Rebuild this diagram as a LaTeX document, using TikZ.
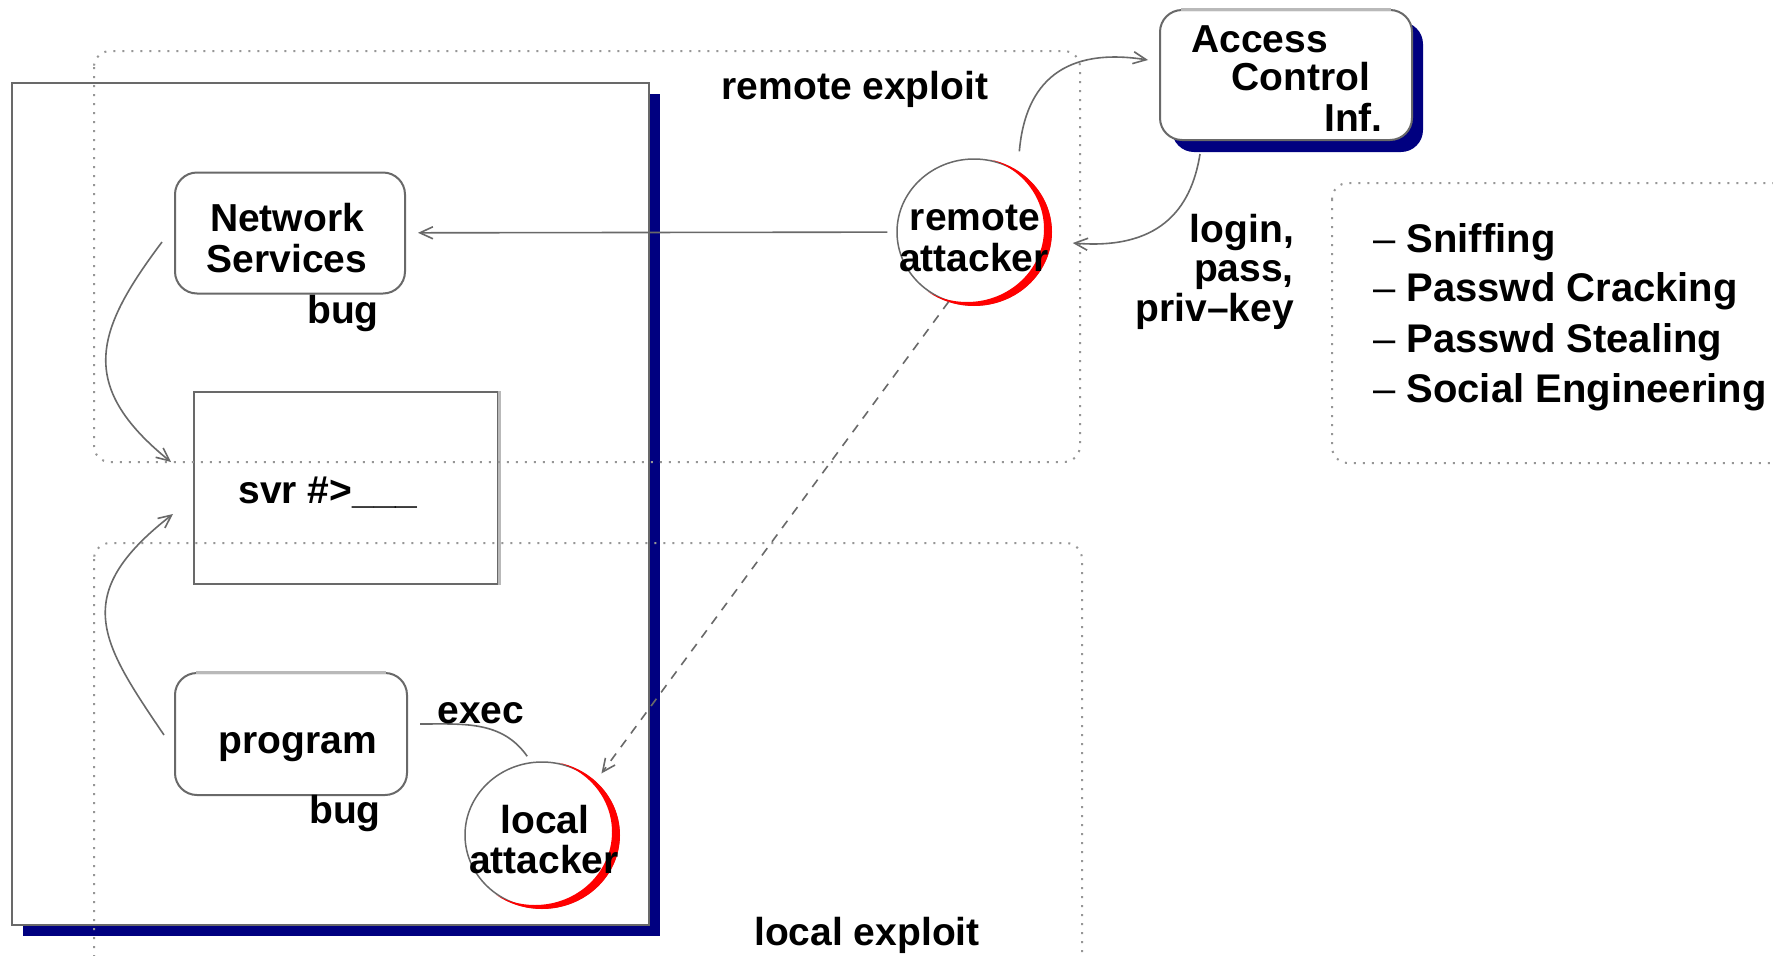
\documentclass[tikz,border=0pt]{standalone}
\usepackage{fontspec}
\setmainfont{Liberation Sans}
\usetikzlibrary{arrows.meta,shapes.geometric}
\definecolor{navyshadow}{RGB}{0,0,128}
\definecolor{edgegray}{RGB}{105,105,105}
\definecolor{lightedge}{RGB}{185,185,185}
\definecolor{dotgray}{RGB}{150,150,150}
\begin{document}
\begin{tikzpicture}[x=1pt,y=1pt,
  lbl/.style={font=\bfseries\fontsize{39}{41}\selectfont, inner sep=0pt},
  listlbl/.style={font=\bfseries\fontsize{40}{42}\selectfont, inner sep=0pt},
  rbox/.style={draw=edgegray, line width=2pt, rounded corners=22pt, inner sep=0pt},
  sqbox/.style={draw=edgegray, line width=2pt, inner sep=0pt},
  attacker/.style={ellipse, draw=edgegray, line width=1.5pt, minimum width=154pt, minimum height=146pt, inner sep=0pt},
  arr/.style={draw=edgegray, line width=1.6pt, -{Straight Barb[length=13pt,width=12pt,line width=1.6pt]}},
  plainline/.style={draw=edgegray, line width=1.6pt},
  zone/.style={draw=dotgray, line width=2pt, dash pattern=on 2pt off 7pt, rounded corners=16pt},
  lighttop/.style={draw=lightedge, line width=3pt},
]
\useasboundingbox (0,-956) rectangle (1773,0);
\fill[white] (0,-956) rectangle (1773,0);

% server box with shadow
\fill[navyshadow] (23,-94) rectangle (660,-936);
\node[sqbox, line width=2.5pt, fill=white, minimum width=637pt, minimum height=842pt] (server) at (330.5,-504) {};

% boxes
\node[rbox, minimum width=230pt, minimum height=121pt] (ns) at (290,-233) {};
\node[sqbox, minimum width=304pt, minimum height=192pt] (svr) at (346,-488) {};
\draw[lighttop] (svr.north east) -- (svr.south east);
\node[rbox, minimum width=232pt, minimum height=122pt] (prog) at (291,-734) {};
\draw[lighttop] ([xshift=22pt]prog.north west) -- ([xshift=-22pt]prog.north east);

% access control box with shadow
\fill[navyshadow, rounded corners=22pt] (1172,-22) rectangle (1423,-152);
\node[rbox, fill=white, minimum width=252pt, minimum height=130pt] (acc) at (1286,-75) {};
\draw[lighttop] ([xshift=22pt]acc.north west) -- ([xshift=-22pt]acc.north east);

% attackers
\node[attacker] (la) at (542,-835) {};
\node[attacker] (ra) at (974,-232) {};
\begin{scope}
  \clip (ra.center) ellipse [x radius=78pt, y radius=74pt];
  \fill[red, even odd rule] (880,-320) rectangle (1070,-140)
    ([xshift=-7pt,yshift=3pt]ra.center) ellipse [x radius=77pt, y radius=73pt];
\end{scope}
\begin{scope}
  \clip (la.center) ellipse [x radius=78pt, y radius=74pt];
  \fill[red, even odd rule] (450,-925) rectangle (640,-745)
    ([xshift=-7pt,yshift=3pt]la.center) ellipse [x radius=77pt, y radius=73pt];
\end{scope}

% zones
\draw[zone] (94,-51) rectangle (1080,-462);
\draw[zone] (94,-543) rectangle (1082,-975);
\draw[zone] (1332,-183) rectangle (1800,-463);

% connectors
\draw[arr, shorten <=9pt, shorten >=12pt] (ra) -- (ns);
\draw[arr] ([shift={(-12pt,-9pt)}]ns.west) .. controls +(-66,-88) and +(-95,77) .. ([shift={(-22pt,26pt)}]svr.west);
\draw[arr] ([shift={(-10pt,-1pt)}]prog.west) .. controls +(-63,93) and +(-104,-81) .. ([shift={(-20pt,-26pt)}]svr.west);
\draw[plainline] ([shift={(12pt,10pt)}]prog.east) to[out=0,in=125] ([shift={(-2pt,6pt)}]la.100);
\draw[arr, dash pattern=on 9pt off 8pt, shorten >=10pt] (ra.-110) -- (la.45);
\draw[arr] ([shift={(8pt,16pt)}]ra.60) .. controls +(6,70) and +(-83,13) .. ([shift={(-11pt,15pt)}]acc.west);
\draw[arr] ([shift={(41pt,-13pt)}]acc.south west) .. controls +(-9,-57) and +(85,-7) .. ([shift={(21pt,-11pt)}]ra.east);

% texts
\node[lbl, anchor=base] (tns1) at (287,-231) {Network};
\node[lbl, anchor=base] (tns2) at (287,-272) {Services};
\node[lbl, anchor=base] (bug1) at (343,-323) {bug};
\node[lbl, anchor=base] (tsvr) at (328,-503) {svr \#>\_\_\_};
\node[lbl, anchor=base] (tprog) at (298,-753) {program};
\node[lbl, anchor=base] (bug2) at (345,-823) {bug};
\node[lbl, anchor=base] (texec) at (481,-723) {exec};
\node[lbl, anchor=base] (tla1) at (545,-833) {local};
\node[lbl, anchor=base] (tla2) at (544,-873) {attacker};
\node[lbl, anchor=base] (tra1) at (975,-230) {remote};
\node[lbl, anchor=base] (tra2) at (974,-271) {attacker};
\node[lbl, anchor=base] (trex) at (855,-99) {remote exploit};
\node[lbl, anchor=base] (tlex) at (867,-945) {local exploit};
\node[lbl, anchor=base west] (tacc1) at (1191,-52) {Access};
\node[lbl, anchor=base west] (tacc2) at (1231,-90) {Control};
\node[lbl, anchor=base west] (tacc3) at (1324,-131) {Inf.};
\node[lbl, anchor=base east] (tcred1) at (1294,-242) {login,};
\node[lbl, anchor=base east] (tcred2) at (1294,-281) {pass,};
\node[lbl, anchor=base east] (tcred3) at (1294,-321) {priv–key};
\node[listlbl, anchor=base west] (l1) at (1373,-252) {{\mdseries –} Sniffing};
\node[listlbl, anchor=base west] (l2) at (1373,-301) {{\mdseries –} Passwd Cracking};
\node[listlbl, anchor=base west] (l3) at (1373,-352) {{\mdseries –} Passwd Stealing};
\node[listlbl, anchor=base west] (l4) at (1373,-402) {{\mdseries –} Social Engineering};
\end{tikzpicture}
\end{document}
